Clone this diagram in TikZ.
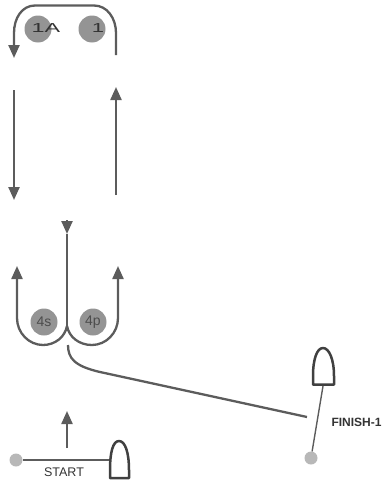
\documentclass[tikz,border=0pt]{standalone}
\usepackage{fontspec}
\setmainfont{Liberation Sans}
\usetikzlibrary{arrows.meta}
\definecolor{linegray}{gray}{0.36}
\definecolor{orb}{gray}{0.58}
\definecolor{dotgray}{gray}{0.72}
\tikzset{
  flow/.style={draw=linegray,line width=2.3pt,-{Triangle[length=13pt,width=11pt,fill=linegray]}},
  plainflow/.style={draw=linegray,line width=2.3pt},
  wire/.style={draw=linegray,line width=1.4pt},
  orbital/.style={circle,fill=orb,minimum size=27pt,inner sep=0pt,font=\fontsize{14}{16}\selectfont,text=black!70},
  dotnode/.style={circle,fill=dotgray,minimum size=13pt,inner sep=0pt},
  bullet/.style={draw=black!75,line width=2.5pt,fill=white,line join=round},
  caption/.style={font=\fontsize{12.5}{14}\selectfont,text=black!80,inner sep=0pt}
}
\begin{document}
\begin{tikzpicture}[x=1pt,y=-1pt]
\useasboundingbox (0,0) rectangle (382,482);
% orbitals
\node[orbital] (o1a) at (38,29) {};
\node[orbital] (o1) at (92,29) {};
\node[orbital] (o4s) at (44,322) {4s};
\node[orbital] (o4p) at (93,322) {4p};
\node[font=\fontsize{13}{14}\selectfont,text=black!80,inner sep=0pt,xscale=1.8] (t1a) at (46,28) {1A};
\node[font=\fontsize{13}{14}\selectfont,text=black!80,inner sep=0pt,xscale=1.7] (t1) at (98,28) {1};
% top loop
\coordinate (ts) at (116,55);
\coordinate (te) at (14,58);
\draw[flow] (ts) -- (116,33) .. controls (116,18) and (107,5.5) .. (94,5.5) -- (35,5.5) .. controls (22,5.5) and (14,18) .. (14,33) -- (te);
% side arrows
\coordinate (l1) at (14,90); \coordinate (l2) at (14,200);
\coordinate (r1) at (116,195); \coordinate (r2) at (116,87);
\draw[flow] (l1) -- (l2);
\draw[flow] (r1) -- (r2);
% centre and U curves
\coordinate (ctop) at (67,220);
\coordinate (ctip) at (67,234);
\coordinate (cbot) at (67,326);
\coordinate (ul) at (17,266);
\coordinate (ur) at (118,266);
\draw[plainflow] (cbot) -- (ctip);
\draw[flow] (ctop) -- (ctip);
\draw[flow] (cbot) .. controls (65,337) and (55,345) .. (43,345) .. controls (29,345) and (17,333) .. (17,318) -- (ul);
\draw[flow] (cbot) .. controls (69,337) and (79,345) .. (92,345) .. controls (106,345) and (118,333) .. (118,318) -- (ur);
% long curve
\coordinate (ls) at (68,345);
\coordinate (le) at (307,417);
\draw[plainflow] (ls) .. controls (68,358) and (74,366) .. (100,372) -- (le);
% start
\node[dotnode] (start) at (16,460) {};
\path[bullet] (110,478) -- (110,470) .. controls (110,452) and (113,441) .. (119,441) .. controls (125,441) and (129,452) .. (129,470) -- (129,478) -- cycle;
\coordinate (sb) at (109,460);
\draw[wire] (start) -- (sb);
\node[caption] (startlabel) at (64,472) {START};
\coordinate (ua) at (67,448); \coordinate (ub) at (67,411);
\draw[flow] (ua) -- (ub);
% finish
\node[dotnode] (finish) at (311,458) {};
\path[bullet] (313,384.5) -- (313,376) .. controls (313,359) and (317,348) .. (323,348) .. controls (329,348) and (334,359) .. (334,376) -- (334,384.5) -- cycle;
\coordinate (fb) at (323,386);
\draw[wire] (finish) -- (fb);
\node[caption,font=\fontsize{12}{14}\selectfont\bfseries,xscale=1] (finishlabel) at (356.5,422) {FINISH-1};
\end{tikzpicture}
\end{document}
